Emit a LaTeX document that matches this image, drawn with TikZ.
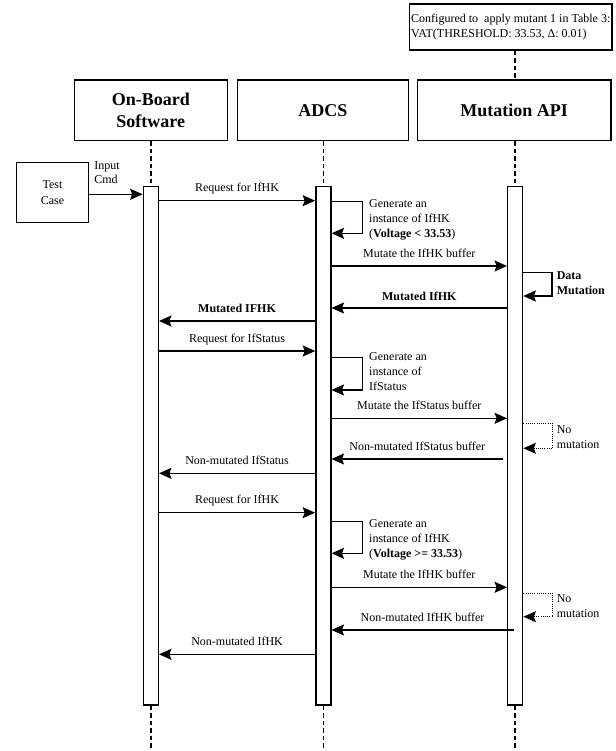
\documentclass[tikz,border=0pt]{standalone}
\usepackage{fontspec}
\setmainfont{Liberation Serif}
\usetikzlibrary{arrows.meta}
\begin{document}
\begin{tikzpicture}[x=1pt,y=-1pt,
  hdr/.style={draw, line width=1.4pt, minimum height=60.7pt, inner sep=0pt, align=center, font=\fontsize{18}{21.7}\selectfont\bfseries},
  bar/.style={draw, line width=1.3pt, fill=white, minimum width=15pt, minimum height=518.3pt, inner sep=0pt},
  life/.style={line width=1.6pt, dash pattern=on 4.5pt off 3pt},
  msg/.style={line width=1.4pt, -{Stealth[length=12.5pt,width=11pt,inset=2pt]}},
  dmsg/.style={msg, line width=1.2pt, dash pattern=on 1.1pt off 1.1pt},
  lbl/.style={anchor=base, yshift=9pt, inner sep=0pt, font=\fontsize{12}{15}\selectfont},
  note/.style={anchor=north west, inner sep=0pt, align=left, font=\fontsize{12}{15}\selectfont},
]
\path[use as bounding box] (0,0) rectangle (615,751);

% header boxes
\node[hdr, minimum width=153pt] (obsH) at (150.8,110.35) {On-Board\\Software};
\node[hdr, minimum width=171pt] (adcsH) at (322.9,110.35) {ADCS};
\node[hdr, minimum width=193.7pt] (mutH) at (514.2,110.35) {Mutation API};

% configuration note
\node[draw, line width=1.4pt, anchor=north west, inner xsep=1.5pt, inner ysep=0pt, minimum height=46pt, align=left, font=\fontsize{12}{15.3}\selectfont] (cfg) at (409,3.3) {Configured to\ \ apply mutant 1 in Table 3:\\VAT(THRESHOLD: 33.53, Δ: 0.01)};

% activation bars
\node[bar] (obsBar) at (150.8,445.85) {};
\node[bar] (adcsBar) at (323.35,445.85) {};
\node[bar] (mutBar) at (515.2,445.85) {};

% lifelines
\coordinate (bot) at (0,751);
\draw[life] (mutBar.north |- cfg.south) -- (mutBar.north |- mutH.north);
\draw[life] (obsBar.north |- obsH.south) -- (obsBar.north);
\draw[life] (adcsBar.north |- adcsH.south) -- (adcsBar.north);
\draw[life] (mutBar.north |- mutH.south) -- (mutBar.north);
\draw[life] (obsBar.south) -- (obsBar.south |- bot);
\draw[life] (adcsBar.south) -- (adcsBar.south |- bot);
\draw[life] (mutBar.south) -- (mutBar.south |- bot);

% test case
\node[draw, line width=1.4pt, minimum width=71.6pt, minimum height=60pt, align=center, font=\fontsize{12}{16}\selectfont] (tc) at (52.5,192.7) {Test\\Case};
\coordinate (yin) at (0,194.3);
\draw[msg] (tc.east |- yin) -- (obsBar.west |- yin);
\node[note, font=\fontsize{12}{14.3}\selectfont] (incmd) at (94.2,159) {\strut Input\\\strut Cmd};

% 1
\coordinate (y1) at (0,200.7);
\draw[msg] (obsBar.east |- y1) -- (adcsBar.west |- y1) node[lbl, midway] (t1) {Request for IfHK};
% loop generate 1
\coordinate (l1a) at (362.7,201.5);
\coordinate (l1b) at (362.7,233.3);
\draw[msg] (adcsBar.east |- l1a) -- (l1a) -- (l1b) -- (adcsBar.east |- l1b);
\node[note] (g1) at (369,196.8) {\strut Generate an\\\strut instance of IfHK\\\strut(\textbf{Voltage < 33.53})};
% 3
\coordinate (y3) at (0,266);
\draw[msg] (adcsBar.east |- y3) -- (mutBar.west |- y3) node[lbl, midway] (t3) {Mutate the IfHK buffer};
% data mutation loop
\coordinate (d1a) at (552,272.7);
\coordinate (d1b) at (552,296);
\draw[msg] (mutBar.east |- d1a) -- (d1a) -- (d1b) -- (mutBar.east |- d1b);
\node[note, font=\fontsize{12}{15}\selectfont\bfseries] (dm) at (556.6,268.5) {\strut Data\\\strut Mutation};
% 5
\coordinate (y5) at (0,308);
\draw[msg] (mutBar.west |- y5) -- (adcsBar.east |- y5) node[lbl, midway, yshift=-1pt, font=\fontsize{12}{15}\selectfont\bfseries] (t5) {Mutated IfHK};
% 6
\coordinate (y6) at (0,321);
\draw[msg] (adcsBar.west |- y6) -- (obsBar.east |- y6) node[lbl, midway, font=\fontsize{12}{15}\selectfont\bfseries] (t6) {Mutated IFHK};
% 7
\coordinate (y7) at (0,351);
\draw[msg] (obsBar.east |- y7) -- (adcsBar.west |- y7) node[lbl, midway] (t7) {Request for IfStatus};
% loop generate 2
\coordinate (l2a) at (362.7,357.7);
\coordinate (l2b) at (362.7,390);
\draw[msg] (adcsBar.east |- l2a) -- (l2a) -- (l2b) -- (adcsBar.east |- l2b);
\node[note] (g2) at (369,350.2) {\strut Generate an\\\strut instance of\\\strut IfStatus};
% 9
\coordinate (y9) at (0,418.3);
\draw[msg] (adcsBar.east |- y9) -- (mutBar.west |- y9) node[lbl, midway] (t9) {Mutate the IfStatus buffer};
% no mutation 1
\coordinate (n1a) at (552.7,423.3);
\coordinate (n1b) at (552.7,448.3);
\draw[dmsg] (mutBar.east |- n1a) -- (n1a) -- (n1b) -- (mutBar.east |- n1b);
\node[note] (nm1) at (556.6,422.8) {\strut No\\\strut mutation};
% 11
\coordinate (y11) at (0,459);
\draw[msg] ([xshift=-4pt]mutBar.west |- y11) -- (adcsBar.east |- y11) node[lbl, midway] (t11) {Non-mutated IfStatus buffer};
% 12
\coordinate (y12) at (0,473.3);
\draw[msg] (adcsBar.west |- y12) -- (obsBar.east |- y12) node[lbl, midway] (t12) {Non-mutated IfStatus};
% 13
\coordinate (y13) at (0,512.7);
\draw[msg] (obsBar.east |- y13) -- (adcsBar.west |- y13) node[lbl, midway] (t13) {Request for IfHK};
% loop generate 3
\coordinate (l3a) at (362.7,521.7);
\coordinate (l3b) at (362.7,553.3);
\draw[msg] (adcsBar.east |- l3a) -- (l3a) -- (l3b) -- (adcsBar.east |- l3b);
\node[note] (g3) at (369,516.8) {\strut Generate an\\\strut instance of IfHK\\\strut(\textbf{Voltage >= 33.53})};
% 15
\coordinate (y15) at (0,587.3);
\draw[msg] (adcsBar.east |- y15) -- (mutBar.west |- y15) node[lbl, midway] (t15) {Mutate the IfHK buffer};
% no mutation 2
\coordinate (n2a) at (552.7,593.3);
\coordinate (n2b) at (552.7,616.7);
\draw[dmsg] (mutBar.east |- n2a) -- (n2a) -- (n2b) -- (mutBar.east |- n2b);
\node[note] (nm2) at (556.6,591.8) {\strut No\\\strut mutation};
% 17
\coordinate (y17) at (0,630);
\draw[msg] ([xshift=-1.7pt]mutBar.center |- y17) -- (adcsBar.east |- y17) node[lbl, midway] (t17) {Non-mutated IfHK buffer};
% 18
\coordinate (y18) at (0,654.3);
\draw[msg] (adcsBar.west |- y18) -- (obsBar.east |- y18) node[lbl, midway] (t18) {Non-mutated IfHK};
\end{tikzpicture}
\end{document}
